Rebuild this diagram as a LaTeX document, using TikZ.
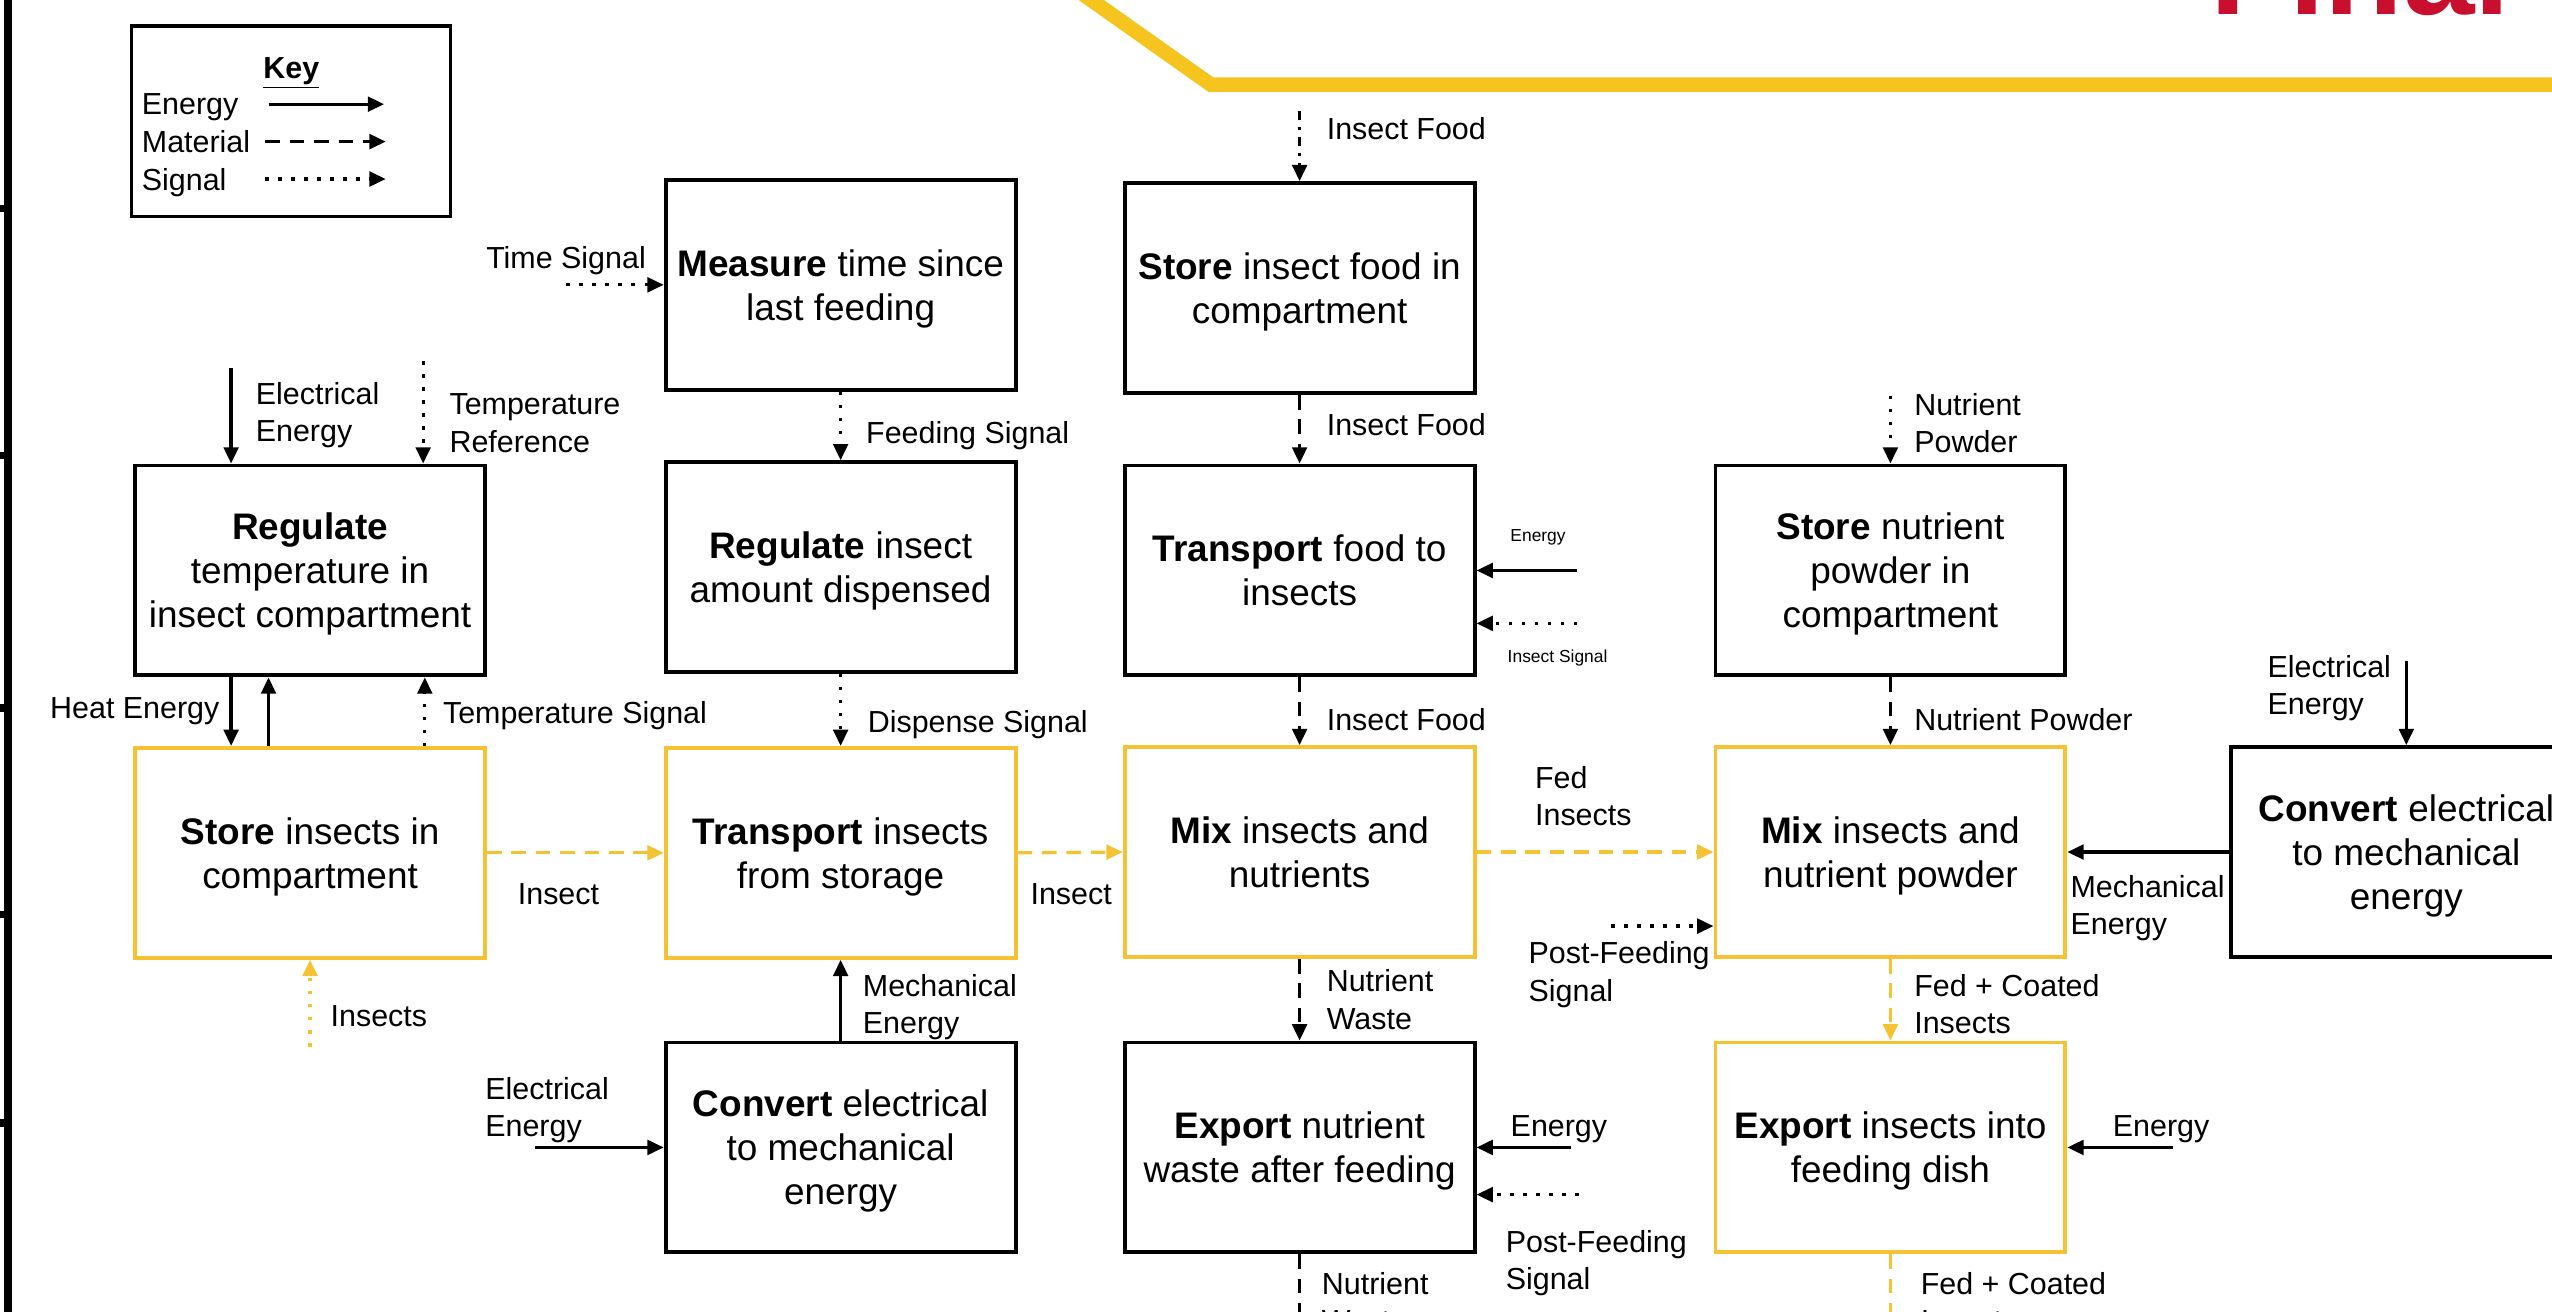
\documentclass[tikz,border=0pt]{standalone}
\usepackage{fontspec}
\setmainfont{Liberation Sans}
\usetikzlibrary{arrows.meta}
\definecolor{ylw}{HTML}{F4C232}
\definecolor{band}{HTML}{F6C41E}
\definecolor{finalred}{HTML}{C8102E}
\tikzset{
  box/.style={draw=black, line width=2.4pt, minimum width=215pt, minimum height=129pt,
    inner sep=0pt, align=center, text depth=0pt, font=\fontsize{22.7}{27}\selectfont},
  ybox/.style={box, draw=ylw},
  lbl/.style={font=\fontsize{18.7}{23}\selectfont, inner sep=0pt, align=left, text depth=0pt},
  slbl/.style={font=\fontsize{10.7}{12}\selectfont, inner sep=0pt},
  tip/.style={-{Triangle[length=10pt,width=9pt]}},
  en/.style={line width=2pt, tip},
  mat/.style={line width=2pt, dash pattern=on 9pt off 6pt, tip},
  matline/.style={line width=2pt, dash pattern=on 9pt off 6pt},
  matdot/.style={line width=2pt, dash pattern=on 6pt off 4pt on 2pt off 4pt, tip},
  sig/.style={line width=2pt, dash pattern=on 2pt off 6pt, tip},
  ymat/.style={mat, draw=ylw, color=ylw},
  ymatline/.style={matline, draw=ylw},
  ysig/.style={sig, draw=ylw, color=ylw},
}
\begin{document}
\begin{tikzpicture}[x=1pt, y=-1pt]
\useasboundingbox (0,0) rectangle (1568,806);
\clip (0,0) rectangle (1568,806);

% frame elements
\draw[line width=4.5pt] (5,-5) -- (5,815);
\foreach \yy in {128,280,435,562,690} \draw[line width=4.5pt] (-2,\yy) -- (5,\yy);
\draw[band, line width=9pt, line join=miter] (662,-6) -- (744,52) -- (1600,52);
\node[anchor=base west, inner sep=0pt, text=finalred, font=\fontsize{79}{80}\selectfont\bfseries] (final) at (1358,9) {Final};

% key
\node[draw, line width=2pt, minimum width=196pt, minimum height=117pt, inner sep=0pt] (key) at (179,74.5) {};
\node[lbl, font=\fontsize{18.7}{23}\selectfont\bfseries] (keyt) at (179,42) {\underline{Key}};
\node[lbl, anchor=west] (k1) at (87,64) {Energy};
\node[lbl, anchor=west] (k2) at (87,87) {Material};
\node[lbl, anchor=west] (k3) at (87,110) {Signal};
\coordinate (k1a) at (165,64); \coordinate (k1b) at (236,64);
\coordinate (k2a) at (163,87); \coordinate (k2b) at (237,87);
\coordinate (k3a) at (163,110); \coordinate (k3b) at (237,110);
\draw[en] (k1a) -- (k1b);
\draw[mat] (k2a) -- (k2b);
\draw[sig] (k3a) -- (k3b);

% boxes
\node[box] (meas) at (516.5,175) {\textbf{Measure} time since\\last feeding};
\node[box] (storef) at (798.5,177) {\textbf{Store} insect food in\\compartment};
\node[box] (regT) at (190.5,350.5) {\textbf{Regulate}\\temperature in\\insect compartment};
\node[box] (regA) at (516.5,348.5) {\textbf{Regulate} insect\\amount dispensed};
\node[box] (trf) at (798.5,350.5) {\textbf{Transport} food to\\insects};
\node[box] (stn) at (1161.5,350.5) {\textbf{Store} nutrient\\powder in\\compartment};
\node[ybox] (sto) at (190.5,524) {\textbf{Store} insects in\\compartment};
\node[ybox] (tri) at (516.5,524) {\textbf{Transport} insects\\from storage};
\node[ybox] (mix1) at (798.5,523.5) {\textbf{Mix} insects and\\nutrients};
\node[ybox] (mix2) at (1161.5,523.5) {\textbf{Mix} insects and\\nutrient powder};
\node[box] (conv2) at (1478.5,523.5) {\textbf{Convert} electrical\\to mechanical\\energy};
\node[box] (conv1) at (516.5,705) {\textbf{Convert} electrical\\to mechanical\\energy};
\node[box] (exn) at (798.5,705) {\textbf{Export} nutrient\\waste after feeding};
\node[ybox] (exi) at (1161.5,705) {\textbf{Export} insects into\\feeding dish};

% free ends
\coordinate (tsS) at (348,175);
\coordinate (ifS) at (798.5,68);
\coordinate (eT) at (969,350.5);
\coordinate (isT) at (969,383);
\coordinate (npT) at (1161.5,243);
\coordinate (eeT) at (142,226);
\coordinate (trT) at (260,222);
\coordinate (hA) at (142,435);
\coordinate (hB) at (165,435);
\coordinate (hC) at (261,435);
\coordinate (insS) at (190.5,643);
\coordinate (elB) at (329,705);
\coordinate (pfS) at (990,569);
\coordinate (elR) at (1478.5,406);
\coordinate (enE) at (965,705);
\coordinate (pfE) at (970,734);
\coordinate (enI) at (1335,705);
\coordinate (wOut) at (798.5,830);
\coordinate (fOut) at (1161.5,830);

% connectors
\draw[sig] (tsS) -- (meas.west |- tsS);
\draw[sig] (meas.south) -- (regA.north);
\draw[matdot] (ifS) -- (storef.north);
\draw[mat] (storef.south) -- (trf.north);
\draw[en] (eT) -- (trf.east);
\draw[sig] (isT) -- (trf.east |- isT);
\draw[mat] (trf.south) -- (mix1.north);
\draw[sig] (npT) -- (stn.north);
\draw[mat] (stn.south) -- (mix2.north);
\draw[en] (eeT) -- (regT.north -| eeT);
\draw[sig] (trT) -- (regT.north -| trT);
\draw[en] (regT.south -| hA) -- (sto.north -| hA);
\draw[en] (sto.north -| hB) -- (regT.south -| hB);
\draw[sig] (sto.north -| hC) -- (regT.south -| hC);
\draw[ymat] (sto.east) -- (tri.west);
\draw[ysig] (insS) -- (sto.south);
\draw[sig] (regA.south) -- (tri.north);
\draw[ymat] (tri.east) -- (mix1.west);
\draw[en] (conv1.north) -- (tri.south);
\draw[en] (elB) -- (conv1.west);
\draw[ymat] (mix1.east) -- (mix2.west);
\draw[sig] (pfS) -- (mix2.west |- pfS);
\draw[en] (conv2.west) -- (mix2.east);
\draw[en] (elR) -- (conv2.north);
\draw[mat] (mix1.south) -- (exn.north);
\draw[ymat] (mix2.south) -- (exi.north);
\draw[en] (enE) -- (exn.east);
\draw[sig] (pfE) -- (exn.east |- pfE);
\draw[en] (enI) -- (exi.east);
\draw[matline] (exn.south) -- (wOut);
\draw[ymatline] (exi.south) -- (fOut);

% labels
\node[lbl, anchor=east] (l1) at (397,158) {Time Signal};
\node[lbl, anchor=west] (l2) at (532,266) {Feeding Signal};
\node[lbl, anchor=west] (l3) at (815,79) {Insect Food};
\node[lbl, anchor=west] (l4) at (815,261) {Insect Food};
\node[slbl] (l5) at (945,330) {Energy};
\node[slbl] (l6) at (957,404) {Insect Signal};
\node[lbl, anchor=west] (l7) at (815,442) {Insect Food};
\node[lbl, anchor=west] (l8) at (1176,260) {Nutrient\\Powder};
\node[lbl, anchor=west] (l9) at (1176,442) {Nutrient Powder};
\node[lbl, anchor=west] (l10) at (157,253) {Electrical\\Energy};
\node[lbl, anchor=west] (l11) at (276,260) {Temperature\\Reference};
\node[lbl, anchor=east] (l12) at (135,435) {Heat Energy};
\node[lbl, anchor=west] (l13) at (272,438) {Temperature Signal};
\node[lbl, anchor=west] (l14) at (318,549) {Insect};
\node[lbl, anchor=west] (l15) at (203,624) {Insects};
\node[lbl, anchor=west] (l16) at (533,443) {Dispense Signal};
\node[lbl, anchor=west] (l17) at (633,549) {Insect};
\node[lbl, anchor=west] (l18) at (530,617) {Mechanical\\Energy};
\node[lbl, anchor=west] (l19) at (298,680) {Electrical\\Energy};
\node[lbl, anchor=west] (l20) at (943,489) {Fed\\Insects};
\node[lbl, anchor=west] (l21) at (939,597) {Post-Feeding\\Signal};
\node[lbl, anchor=west] (l22) at (1272,556) {Mechanical\\Energy};
\node[lbl, anchor=west] (l23) at (1393,421) {Electrical\\Energy};
\node[lbl, anchor=west] (l24) at (815,614) {Nutrient\\Waste};
\node[lbl, anchor=west] (l25) at (1176,617) {Fed + Coated\\Insects};
\node[lbl, anchor=west] (l26) at (928,692) {Energy};
\node[lbl, anchor=west] (l27) at (925,774) {Post-Feeding\\Signal};
\node[lbl, anchor=west] (l28) at (1298,692) {Energy};
\node[lbl, anchor=west] (l29) at (812,800) {Nutrient\\Waste};
\node[lbl, anchor=west] (l30) at (1180,800) {Fed + Coated\\Insects};
\end{tikzpicture}
\end{document}
